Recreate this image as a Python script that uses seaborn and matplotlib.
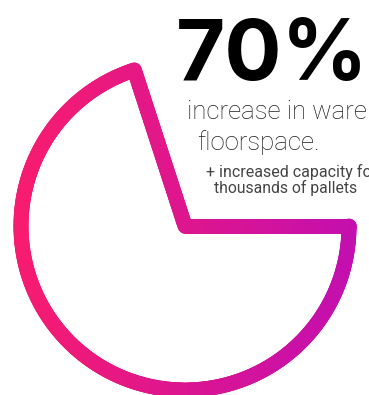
import numpy as np
import matplotlib
matplotlib.use("Agg")
import matplotlib.pyplot as plt
from matplotlib.collections import LineCollection
import seaborn as sns

# ---- data ----
percent_values = [70]
headline = "70%"
main_lines = ["increase in warehouse", "floorspace."]
sub_lines = ["+ increased capacity for", "thousands of pallets"]
gradient_colors = ["#F81C6E", "#C20FB0"]

sns.set_theme(style="white")
plt.rcParams['font.family'] = ['Roboto', 'DejaVu Sans']

W, H = 369, 395
fig = plt.figure(figsize=(W / 100, H / 100), dpi=100)
ax = fig.add_axes([0, 0, 1, 1])
ax.set_xlim(0, W)
ax.set_ylim(H, 0)
ax.axis("off")

# ---- pie outline with gradient stroke ----
cx, cy, r = 185, 226, 164
frac = percent_values[0] / 100.0
sweep = frac * 360.0
start = 360.0 - sweep              # ends exactly at 3 o'clock
theta = np.radians(np.linspace(start, start + sweep, 400))
arc_x = cx + r * np.cos(theta)
arc_y = cy - r * np.sin(theta)

n_line = 80
l1x = np.linspace(cx, arc_x[0], n_line)
l1y = np.linspace(cy, arc_y[0], n_line)
l2x = np.linspace(arc_x[-1], cx, n_line)
l2y = np.linspace(arc_y[-1], cy, n_line)
px = np.concatenate([l1x, arc_x[1:], l2x[1:]])
py = np.concatenate([l1y, arc_y[1:], l2y[1:]])
pts = np.column_stack([px, py]).reshape(-1, 1, 2)
segs = np.concatenate([pts[:-1], pts[1:]], axis=1)

cmap = sns.blend_palette(gradient_colors, as_cmap=True)
xmid = (segs[:, 0, 0] + segs[:, 1, 0]) / 2
norm = plt.Normalize(cx - r - 8, cx + r + 8)
lc = LineCollection(segs, colors=cmap(norm(xmid)), linewidths=10.8,
                    capstyle="round", joinstyle="round")
ax.add_collection(lc)

# ---- texts ----
ax.text(176, 80, headline, fontsize=61, fontweight="bold", family=["Inter", "DejaVu Sans"],
        color="#000000", ha="left", va="baseline")
ax.text(187, 119, main_lines[0], fontsize=18.5, fontweight="light", color="#1e1e1e",
        ha="left", va="baseline")
ax.text(197, 150, main_lines[1], fontsize=18.5, fontweight="light", color="#1e1e1e",
        ha="left", va="baseline")
ax.text(206, 177, sub_lines[0], fontsize=11.5, color="#444444", ha="left", va="baseline")
ax.text(214, 193, sub_lines[1], fontsize=11.3, color="#444444", ha="left", va="baseline")

fig.savefig("out.png", dpi=100, facecolor="white")
